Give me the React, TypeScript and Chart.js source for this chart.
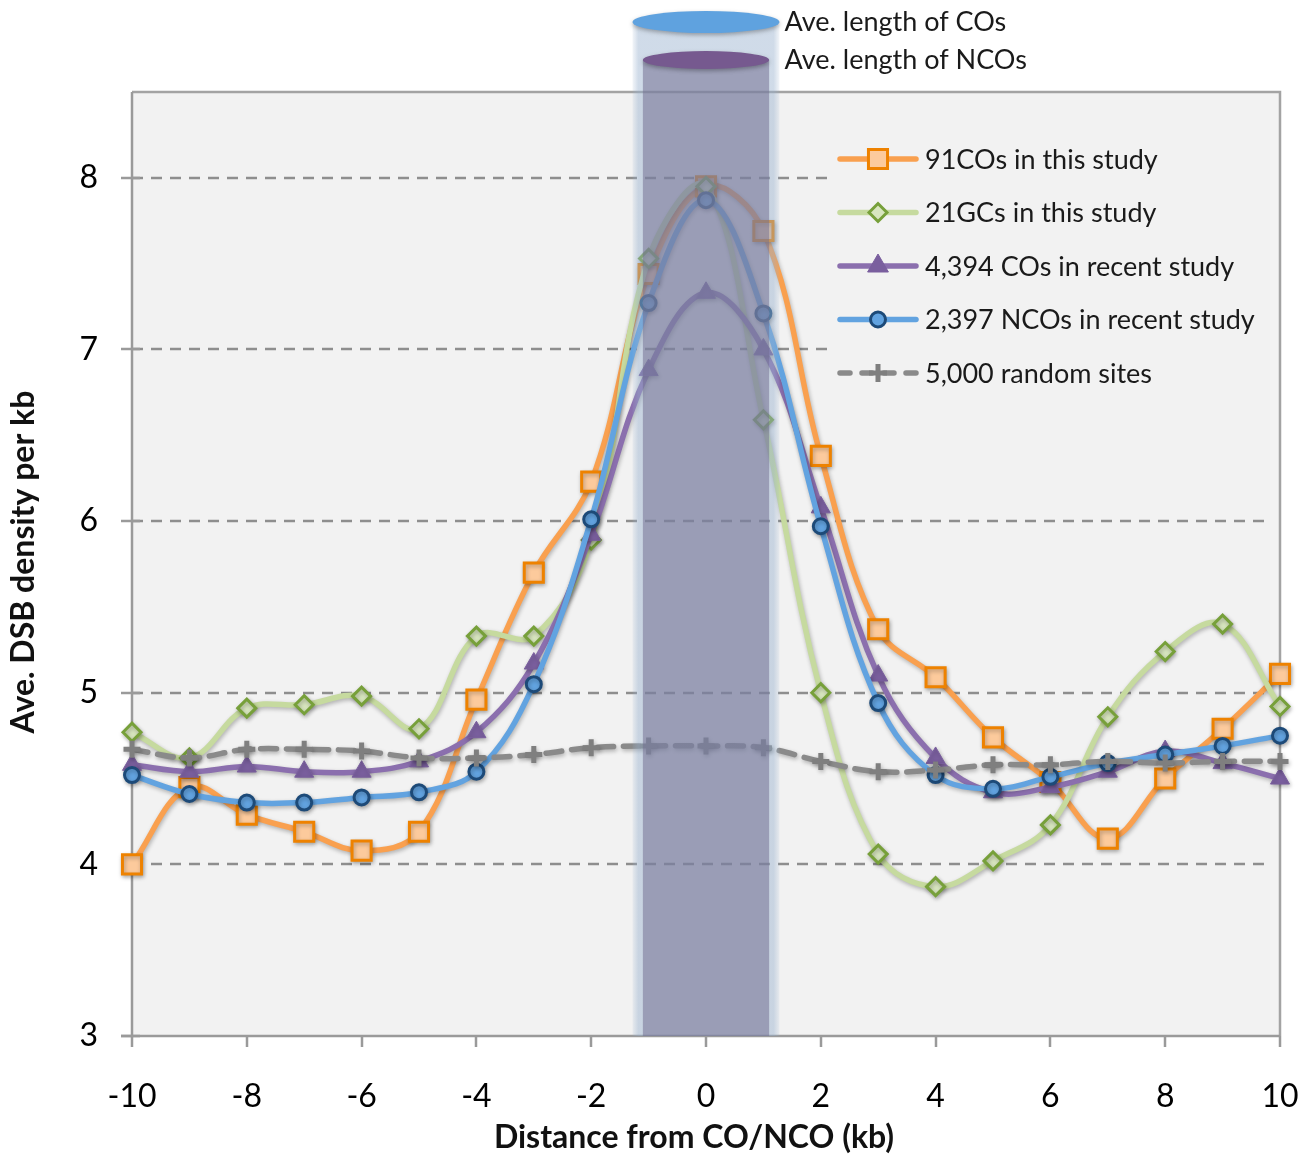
import React, { useEffect, useRef } from 'react';
import { Chart, registerables } from 'chart.js';

Chart.register(...registerables);

// ---------- data ----------
const distances = [-10, -9, -8, -7, -6, -5, -4, -3, -2, -1, 0, 1, 2, 3, 4, 5, 6, 7, 8, 9, 10];
const co91 = [4.0, 4.45, 4.29, 4.19, 4.08, 4.19, 4.96, 5.7, 6.23, 7.44, 7.95, 7.69, 6.38, 5.37, 5.09, 4.74, 4.48, 4.15, 4.5, 4.79, 5.11];
const gc21 = [4.77, 4.62, 4.91, 4.93, 4.98, 4.79, 5.33, 5.33, 5.89, 7.53, 7.95, 6.59, 5.0, 4.06, 3.87, 4.02, 4.23, 4.86, 5.24, 5.4, 4.92];
const co4394 = [4.58, 4.54, 4.57, 4.54, 4.54, 4.6, 4.77, 5.17, 5.92, 6.88, 7.33, 7.0, 6.08, 5.1, 4.62, 4.42, 4.45, 4.54, 4.66, 4.59, 4.5];
const nco2397 = [4.52, 4.41, 4.36, 4.36, 4.39, 4.42, 4.54, 5.05, 6.01, 7.27, 7.87, 7.21, 5.97, 4.94, 4.52, 4.44, 4.51, 4.59, 4.64, 4.69, 4.75];
const random5000 = [4.67, 4.62, 4.67, 4.67, 4.66, 4.62, 4.62, 4.64, 4.68, 4.69, 4.69, 4.68, 4.6, 4.54, 4.55, 4.58, 4.58, 4.6, 4.59, 4.6, 4.6];

const seriesLabels = [
  '91COs in this study',
  '21GCs in this study',
  '4,394 COs in recent study',
  '2,397 NCOs in recent study',
  '5,000 random sites',
];
const seriesValues = [co91, gc21, co4394, nco2397, random5000];

const xTicks = [-10, -8, -6, -4, -2, 0, 2, 4, 6, 8, 10];
const yTicks = [3, 4, 5, 6, 7, 8];
const xRange = [-10, 10];
const yRange = [3, 8.5];

const coHalfLength = 1.28; // kb, half of average CO length
const ncoHalfLength = 1.1; // kb, half of average NCO length
const bandLabels = ['Ave. length of COs', 'Ave. length of NCOs'];
const xTitle = 'Distance from CO/NCO (kb)';
const yTitle = 'Ave. DSB density per kb';

// ---------- styles ----------
type Sty = { line: string; pt: string; r: number; fill: string; stroke: string; bw: number; dash?: number[] };
const styles: Sty[] = [
  { line: '#f9a04f', pt: 'rect', r: 13.5, fill: '#fcca9c', stroke: '#ee8200', bw: 3 },
  { line: '#c6da9f', pt: 'rectRot', r: 9, fill: '#d8e6bf', stroke: '#77a03a', bw: 3 },
  { line: '#8b6fae', pt: 'triangle', r: 11, fill: '#7a5f9e', stroke: '#7a5f9e', bw: 1 },
  { line: '#62a3e0', pt: 'circle', r: 7.5, fill: '#62a3e0', stroke: '#1d4a78', bw: 3 },
  { line: '#8a8a8a', pt: 'cross', r: 8.5, fill: '#7f7f7f', stroke: '#7f7f7f', bw: 5, dash: [16, 10] },
];

const FONT = 'Lato, "Open Sans", sans-serif';

function drawMarker(ctx: CanvasRenderingContext2D, s: Sty, x: number, y: number, r: number) {
  ctx.save();
  ctx.setLineDash([]);
  ctx.fillStyle = s.fill;
  ctx.strokeStyle = s.stroke;
  ctx.lineWidth = s.bw;
  ctx.beginPath();
  if (s.pt === 'rect') {
    const h = r * Math.SQRT1_2;
    ctx.rect(x - h, y - h, 2 * h, 2 * h);
    ctx.fill();
    ctx.stroke();
  } else if (s.pt === 'rectRot') {
    ctx.moveTo(x - r, y);
    ctx.lineTo(x, y - r);
    ctx.lineTo(x + r, y);
    ctx.lineTo(x, y + r);
    ctx.closePath();
    ctx.fill();
    ctx.stroke();
  } else if (s.pt === 'triangle') {
    for (let i = 0; i < 3; i++) {
      const a = (i * 2 * Math.PI) / 3;
      const px = x + Math.sin(a) * r;
      const py = y - Math.cos(a) * r;
      if (i === 0) ctx.moveTo(px, py);
      else ctx.lineTo(px, py);
    }
    ctx.closePath();
    ctx.fill();
    ctx.stroke();
  } else if (s.pt === 'circle') {
    ctx.arc(x, y, r, 0, Math.PI * 2);
    ctx.fill();
    ctx.stroke();
  } else if (s.pt === 'cross') {
    ctx.moveTo(x - r, y);
    ctx.lineTo(x + r, y);
    ctx.moveTo(x, y - r);
    ctx.lineTo(x, y + r);
    ctx.stroke();
  }
  ctx.restore();
}

// ---------- plugins ----------
const backgroundPlugin = {
  id: 'plotBackground',
  beforeDatasetsDraw(chart: any) {
    const { ctx, chartArea } = chart;
    const { left, right, top, bottom } = chartArea;
    const y = chart.scales.y;
    const x = chart.scales.x;
    ctx.save();
    ctx.fillStyle = '#f2f2f2';
    ctx.fillRect(left, top, right - left, bottom - top);
    // dashed gridlines
    ctx.strokeStyle = '#8e8e8e';
    ctx.lineWidth = 2.5;
    ctx.setLineDash([11, 8]);
    for (const v of yTicks) {
      if (v === yRange[0]) continue;
      const py = Math.round(y.getPixelForValue(v));
      ctx.beginPath();
      ctx.moveTo(left, py);
      ctx.lineTo(right - 8, py);
      ctx.stroke();
    }
    ctx.setLineDash([]);
    // frame
    ctx.strokeStyle = '#a3a3a3';
    ctx.lineWidth = 2.5;
    ctx.beginPath();
    ctx.moveTo(left, top);
    ctx.lineTo(right, top);
    ctx.lineTo(right, bottom);
    ctx.stroke();
    // axes
    ctx.strokeStyle = '#9a9a9a';
    ctx.beginPath();
    ctx.moveTo(left, top);
    ctx.lineTo(left, bottom);
    ctx.moveTo(left - 11, bottom);
    ctx.lineTo(right, bottom);
    ctx.stroke();
    // tick marks
    ctx.beginPath();
    for (const v of yTicks) {
      const py = Math.round(y.getPixelForValue(v));
      ctx.moveTo(left - 11, py);
      ctx.lineTo(left + 8, py);
    }
    for (const v of xTicks) {
      const px = Math.round(x.getPixelForValue(v));
      ctx.moveTo(px, bottom);
      ctx.lineTo(px, bottom + 11);
    }
    ctx.stroke();
    ctx.restore();
  },
};

const shadowPlugin = {
  id: 'seriesShadow',
  beforeDatasetDraw(chart: any) {
    const ctx = chart.ctx;
    ctx.save();
    ctx.shadowColor = 'rgba(0,0,0,0.28)';
    ctx.shadowBlur = 4;
    ctx.shadowOffsetX = 1;
    ctx.shadowOffsetY = 2;
  },
  afterDatasetDraw(chart: any) {
    chart.ctx.restore();
  },
};

const bandPlugin = {
  id: 'lengthBand',
  afterDatasetsDraw(chart: any) {
    const { ctx, chartArea } = chart;
    const x = chart.scales.x;
    const { top, bottom } = chartArea;
    const cx = x.getPixelForValue(0);
    const oL = x.getPixelForValue(-coHalfLength);
    const oR = x.getPixelForValue(coHalfLength);
    const iL = x.getPixelForValue(-ncoHalfLength);
    const iR = x.getPixelForValue(ncoHalfLength);
    const outerTop = top - 70;
    const innerTop = top - 32;
    ctx.save();
    // outer (CO) column with soft edges
    const g = ctx.createLinearGradient(oL, 0, oR, 0);
    g.addColorStop(0, 'rgba(150,175,205,0.12)');
    g.addColorStop(0.04, 'rgba(150,175,205,0.45)');
    g.addColorStop(0.96, 'rgba(150,175,205,0.45)');
    g.addColorStop(1, 'rgba(150,175,205,0.12)');
    ctx.fillStyle = g;
    ctx.fillRect(oL, outerTop, oR - oL, bottom - outerTop);
    // inner (NCO) column
    ctx.fillStyle = 'rgba(112,108,142,0.52)';
    ctx.fillRect(iL, innerTop, iR - iL, bottom - innerTop);
    // ellipse caps
    ctx.shadowColor = 'rgba(0,0,0,0.3)';
    ctx.shadowBlur = 4;
    ctx.shadowOffsetY = 2;
    ctx.fillStyle = '#5fa2df';
    ctx.beginPath();
    ctx.ellipse(cx, outerTop, (oR - oL) / 2, 11, 0, 0, Math.PI * 2);
    ctx.fill();
    ctx.fillStyle = '#76598f';
    ctx.beginPath();
    ctx.ellipse(cx, innerTop, (iR - iL) / 2, 9, 0, 0, Math.PI * 2);
    ctx.fill();
    ctx.shadowColor = 'transparent';
    // labels
    ctx.fillStyle = '#1a1a1a';
    ctx.font = `27px ${FONT}`;
    ctx.textAlign = 'left';
    ctx.textBaseline = 'middle';
    ctx.fillText(bandLabels[0], oR + 5, outerTop);
    ctx.fillText(bandLabels[1], oR + 5, innerTop);
    ctx.restore();
  },
};

const legendPlugin = {
  id: 'customLegend',
  afterDraw(chart: any) {
    const { ctx, chartArea } = chart;
    const { right, top } = chartArea;
    const boxL = right - 452;
    const boxR = right - 12;
    ctx.save();
    ctx.fillStyle = '#f2f2f2';
    ctx.fillRect(boxL, top + 43, boxR - boxL, 263);
    const rowY0 = top + 67;
    const rowGap = 53.5;
    const sx0 = boxL + 10;
    const sx1 = boxL + 90;
    const mx = (sx0 + sx1) / 2;
    seriesLabels.forEach((label, i) => {
      const s = styles[i];
      const yy = rowY0 + i * rowGap;
      ctx.save();
      ctx.strokeStyle = s.line;
      ctx.lineWidth = 5.5;
      ctx.lineCap = 'round';
      if (s.dash) ctx.setLineDash([10, 12]);
      ctx.beginPath();
      ctx.moveTo(sx0 + 2, yy);
      ctx.lineTo(sx1 - 2, yy);
      ctx.stroke();
      ctx.restore();
      drawMarker(ctx, s, mx, yy, s.pt === 'triangle' ? 12 : s.pt === 'rect' ? 13.5 : s.pt === 'circle' ? 7.5 : 9);
      ctx.fillStyle = '#1a1a1a';
      ctx.font = `27px ${FONT}`;
      ctx.textAlign = 'left';
      ctx.textBaseline = 'middle';
      ctx.fillText(label, sx1 + 7, yy + 1);
    });
    // axis titles
    ctx.fillStyle = '#111';
    ctx.font = `bold 32px ${FONT}`;
    ctx.textAlign = 'center';
    ctx.textBaseline = 'middle';
    ctx.fillText(xTitle, (chartArea.left + chartArea.right) / 2 - 12, 1138);
    ctx.save();
    ctx.translate(24, 562);
    ctx.rotate(-Math.PI / 2);
    ctx.font = `bold 32px ${FONT}`;
    ctx.fillText(yTitle, 0, 0);
    ctx.restore();
    ctx.restore();
  },
};

export default function App() {
  const canvasRef = useRef<HTMLCanvasElement | null>(null);

  useEffect(() => {
    const canvas = canvasRef.current;
    if (!canvas) return;
    const datasets = seriesValues.map((vals, i) => {
      const s = styles[i];
      return {
        label: seriesLabels[i],
        data: distances.map((d, j) => ({ x: d, y: vals[j] })),
        borderColor: s.line,
        borderWidth: 5.5,
        borderDash: s.dash || [],
        borderCapStyle: 'round' as const,
        borderJoinStyle: 'round' as const,
        tension: 0.38,
        fill: false,
        pointStyle: s.pt as any,
        pointRadius: s.r,
        pointBackgroundColor: s.fill,
        pointBorderColor: s.stroke,
        pointBorderWidth: s.bw,
        pointHoverRadius: s.r,
        clip: false as any,
        order: 5 - i,
      };
    });

    const chart = new Chart(canvas, {
      type: 'line',
      data: { datasets },
      options: {
        responsive: false,
        animation: false,
        devicePixelRatio: 1,
        layout: { padding: { top: 92, right: 30, left: 0, bottom: 0 } },
        plugins: {
          legend: { display: false },
          tooltip: { enabled: false },
        },
        events: [],
        scales: {
          x: {
            type: 'linear',
            min: xRange[0],
            max: xRange[1],
            grid: { display: false, drawTicks: false },
            border: { display: false },
            ticks: {
              stepSize: 2,
              padding: 41,
              autoSkip: false,
              maxRotation: 0,
              color: '#000',
              font: { family: FONT, size: 32 },
            },
            afterBuildTicks: (scale: any) => {
              scale.ticks = xTicks.map((v) => ({ value: v }));
            },
            afterFit: (scale: any) => {
              scale.height = 120;
              scale.paddingLeft = 0;
              scale.paddingRight = 0;
            },
          },
          y: {
            type: 'linear',
            min: yRange[0],
            max: yRange[1],
            grid: { display: false, drawTicks: false },
            border: { display: false },
            ticks: {
              stepSize: 1,
              padding: 34,
              color: '#000',
              font: { family: FONT, size: 32 },
            },
            afterBuildTicks: (scale: any) => {
              scale.ticks = yTicks.map((v) => ({ value: v }));
            },
            afterFit: (scale: any) => {
              scale.width = 132;
              scale.paddingTop = 0;
              scale.paddingBottom = 0;
            },
          },
        },
      },
      plugins: [backgroundPlugin, shadowPlugin, bandPlugin, legendPlugin],
    });
    return () => chart.destroy();
  }, []);

  return (
    <div style={{ position: 'absolute', left: 0, top: 0, width: 1310, height: 1156, background: '#fff' }}>
      <canvas ref={canvasRef} width={1310} height={1156} style={{ display: 'block' }} />
    </div>
  );
}
